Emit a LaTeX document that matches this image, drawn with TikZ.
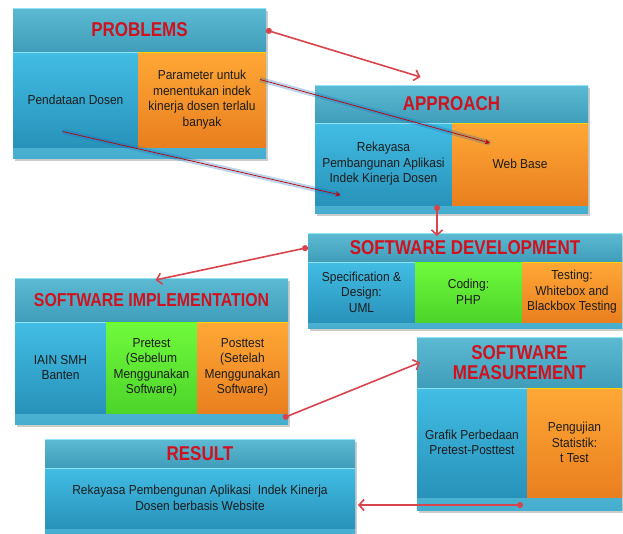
\documentclass[tikz,border=0pt]{standalone}
\usepackage{fontspec}
\setmainfont[FakeStretch=0.92]{Liberation Sans}
\newfontfamily\titlefont[FakeStretch=0.85]{Liberation Sans}
\usetikzlibrary{arrows.meta,shadows,calc}
\definecolor{hdrtop}{HTML}{5DBAD3}
\definecolor{hdrbot}{HTML}{3F9DBA}
\definecolor{bluetop}{HTML}{42BDE4}
\definecolor{bluebot}{HTML}{2892BA}
\definecolor{orgtop}{HTML}{FFA836}
\definecolor{orgbot}{HTML}{E97F1F}
\definecolor{grntop}{HTML}{70FA3C}
\definecolor{grnbot}{HTML}{4DD42A}
\definecolor{striptop}{HTML}{8FE4F8}
\definecolor{stripbot}{HTML}{45ADCE}
\definecolor{titlered}{HTML}{D0121E}
\definecolor{arrowred}{HTML}{D9434C}
\definecolor{txt}{HTML}{1C1C1C}
\begin{document}
\begin{tikzpicture}[x=1pt,y=-1pt,
  box/.style={anchor=north west,inner sep=0pt,outer sep=0pt,top color=striptop,bottom color=stripbot,
    drop shadow={opacity=.4,shadow xshift=2pt,shadow yshift=-3pt}},
  hdr/.style={anchor=north west,inner sep=0pt,outer sep=0pt,top color=hdrtop,bottom color=hdrbot,
    text=titlered,align=center,font=\titlefont\bfseries\fontsize{20}{19.5}\selectfont,
    path picture={\draw[line width=2pt,striptop] (path picture bounding box.north west) -- (path picture bounding box.north east);}},
  cellb/.style={anchor=north west,inner sep=0pt,outer sep=0pt,top color=bluetop,bottom color=bluebot,
    align=center,text=txt,font=\fontsize{13}{15.5}\selectfont,
    path picture={\draw[line width=2pt,striptop] (path picture bounding box.north west) -- (path picture bounding box.north east);}},
  cello/.style={cellb,top color=orgtop,bottom color=orgbot,
    path picture={\draw[line width=2pt,yellow!70!orange] (path picture bounding box.north west) -- (path picture bounding box.north east);}},
  cellg/.style={cellb,top color=grntop,bottom color=grnbot,
    path picture={\draw[line width=2pt,green!60!yellow] (path picture bounding box.north west) -- (path picture bounding box.north east);}},
  link/.style={draw=arrowred,line width=1.6pt,{Circle[length=6pt]}-{Straight Barb[length=5pt,width=11pt]}},
  glow/.style={draw=red!75!black,line width=.7pt,-{Stealth[length=5pt,width=5pt]},
    preaction={draw=cyan!50!blue,line width=5pt,opacity=.3,-}}]
\useasboundingbox (0,0) rectangle (623,533);

\node[box,minimum width=253pt,minimum height=150pt] (probBg) at (13,8) {};
\node[hdr,minimum width=253pt,minimum height=44pt] (probH) at (13,8) {PROBLEMS};
\node[cellb,minimum width=125pt,minimum height=95pt] (probB) at (13,52) {Pendataan Dosen};
\node[cello,minimum width=128pt,minimum height=95pt] (probO) at (138,52) {Parameter untuk\\menentukan indek\\kinerja dosen terlalu\\banyak};

\node[box,minimum width=273pt,minimum height=128pt] (appBg) at (315,85) {};
\node[hdr,minimum width=273pt,minimum height=38pt] (appH) at (315,85) {APPROACH};
\node[cellb,minimum width=137pt,minimum height=82pt] (appB) at (315,123) {Rekayasa\\Pembangunan Aplikasi\\Indek Kinerja Dosen};
\node[cello,minimum width=136pt,minimum height=82pt] (appO) at (452,123) {Web Base};

\node[box,minimum width=314pt,minimum height=95pt] (devBg) at (308,233) {};
\node[hdr,minimum width=314pt,minimum height=29pt] (devH) at (308,233) {SOFTWARE DEVELOPMENT};
\node[cellb,minimum width=107pt,minimum height=60pt] (devB) at (308,262) {Specification \&\\Design:\\UML};
\node[cellg,minimum width=107pt,minimum height=60pt] (devG) at (415,262) {Coding:\\PHP};
\node[cello,minimum width=100pt,minimum height=60pt] (devO) at (522,262) {Testing:\\Whitebox and\\Blackbox Testing};

\node[box,minimum width=273pt,minimum height=146pt] (impBg) at (15,278) {};
\node[hdr,minimum width=273pt,minimum height=44pt,font=\titlefont\bfseries\fontsize{18.7}{19}\selectfont] (impH) at (15,278) {SOFTWARE IMPLEMENTATION};
\node[cellb,minimum width=91pt,minimum height=91pt] (impB) at (15,322) {IAIN SMH\\Banten};
\node[cellg,minimum width=91pt,minimum height=91pt] (impG) at (106,322) {Pretest\\(Sebelum\\Menggunakan\\Software)};
\node[cello,minimum width=91pt,minimum height=91pt] (impO) at (197,322) {Posttest\\(Setelah\\Menggunakan\\Software)};

\node[box,minimum width=205pt,minimum height=173pt] (mesBg) at (417,337) {};
\node[hdr,minimum width=205pt,minimum height=51pt] (mesH) at (417,337) {SOFTWARE\\MEASUREMENT};
\node[cellb,minimum width=110pt,minimum height=109pt] (mesB) at (417,388) {Grafik Perbedaan\\Pretest-Posttest};
\node[cello,minimum width=95pt,minimum height=109pt] (mesO) at (527,388) {Pengujian\\Statistik:\\t Test};

\node[box,minimum width=310pt,minimum height=94pt] (resBg) at (45,439) {};
\node[hdr,minimum width=310pt,minimum height=29pt] (resH) at (45,439) {RESULT};
\node[cellb,minimum width=310pt,minimum height=60pt] (resB) at (45,468) {Rekayasa Pembengunan Aplikasi\ \ Indek Kinerja\\Dosen berbasis Website};

\draw[glow] ($(probO.east)+(-6,-20)$) -- ($(appO.center)+(-30,-21)$);
\draw[glow] ($(probB.center)+(-13,32)$) -- ($(appB.center)+(-43,31)$);

\draw[link] (probH.east) -- ($(appH.north)+(-31,-8)$);
\draw[link] ($(appO.south west)+(-15,0)$) -- ($(devH.north west)+(129,3)$);
\draw[link] (devH.west) -- ($(impH.north)+(4,2)$);
\draw[link] ($(impBg.south east)+(-5,-6)$) -- ($(mesH.west)+(3,0)$);
\draw[link] ($(mesB.south east)+(-4,8)$) -- ($(resB.east)+(3,7)$);
\end{tikzpicture}
\end{document}
